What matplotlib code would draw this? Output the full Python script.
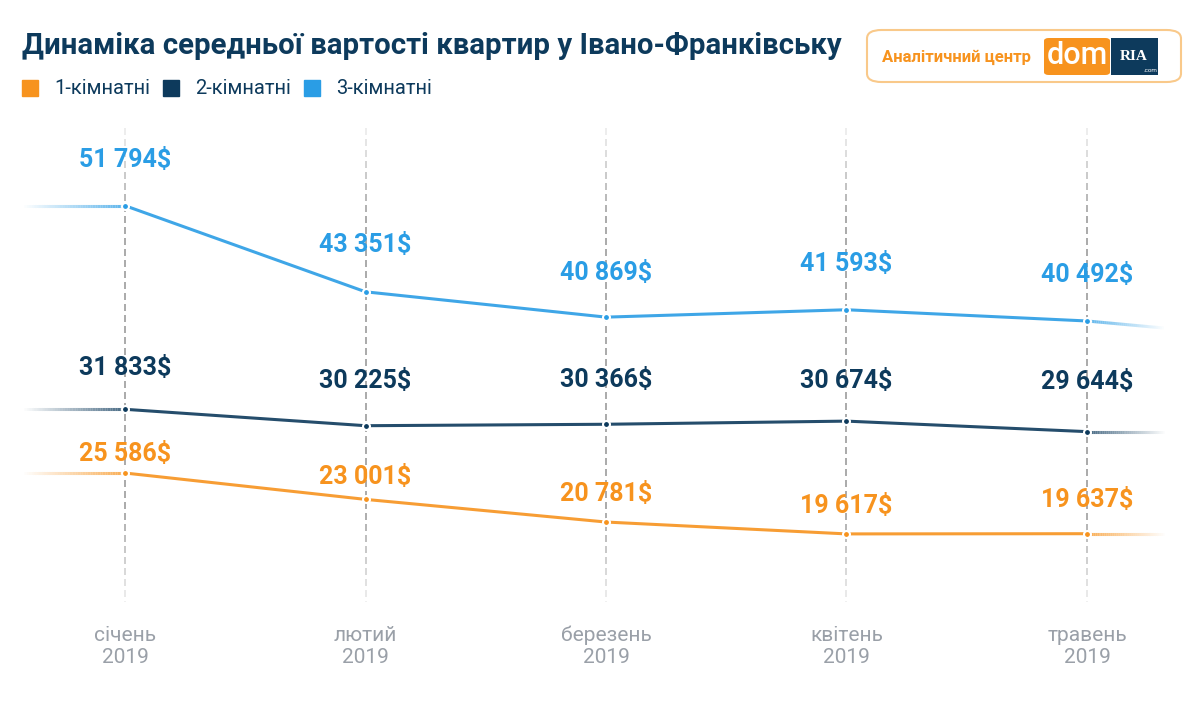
import numpy as np
import matplotlib
matplotlib.use("Agg")
import matplotlib.pyplot as plt
from matplotlib.collections import LineCollection
from matplotlib.patches import FancyBboxPatch, Rectangle

plt.rcParams['font.family'] = ['Roboto', 'DejaVu Sans']

# data
months = ['січень\n2019', 'лютий\n2019', 'березень\n2019', 'квітень\n2019', 'травень\n2019']
series_names = ['1-кімнатні', '2-кімнатні', '3-кімнатні']
room1 = [25586, 23001, 20781, 19617, 19637]
room2 = [31833, 30225, 30366, 30674, 29644]
room3 = [51794, 43351, 40869, 41593, 40492]
# values where the faded tails at both edges end
edge_left = [25586, 31833, 51794]
edge_right = [19637, 29644, 39800]

colors = ['#f7931e', '#0d3a5c', '#2a9de5']
# label centre offsets above each point, in points
label_offsets = [
    [14, 16, 20, 20, 24],
    [30, 32, 32, 29, 36],
    [33, 34, 32, 33, 33],
]

W, H = 1200, 717
fig = plt.figure(figsize=(W / 100, H / 100), dpi=100)
ax = fig.add_axes([0, 0, 1, 1])
ax.set_xlim(-0.52, 4.47)
ax.set_ylim(1667, 71960)
ax.axis('off')

x = np.arange(len(months))
inv = ax.transData.inverted()


def px_to_val(ypx):
    # image pixel row (from top) -> data value
    return inv.transform((0, H - ypx))[1]


# dashed month gridlines, fading at both ends
top_px, bot_px, dash_on, dash_off = 128, 602, 7, 4
for xi in x:
    segs, cols = [], []
    y = top_px
    while y < bot_px:
        y2 = min(y + dash_on, bot_px)
        mid = (y + y2) / 2
        f = np.clip(min((mid - top_px) / 90, (bot_px - mid) / 90), 0, 1)
        segs.append([(xi, px_to_val(y)), (xi, px_to_val(y2))])
        cols.append((0.5, 0.5, 0.5, 0.12 + 0.55 * f))
        y += dash_on + dash_off
    ax.add_collection(LineCollection(segs, colors=cols, linewidths=1.4,
                                     capstyle='butt', zorder=1))


def fade_tail(x0, y0, x1, y1, color):
    n = 40
    xs = np.linspace(x0, x1, n + 1)
    ys = np.linspace(y0, y1, n + 1)
    segs = [[(xs[i], ys[i]), (xs[i + 1], ys[i + 1])] for i in range(n)]
    rgba = matplotlib.colors.to_rgba(color)
    cols = [(rgba[0], rgba[1], rgba[2], 0.75 * (1 - i / n)) for i in range(n)]
    ax.add_collection(LineCollection(segs, colors=cols, linewidths=2.2,
                                     capstyle='butt', zorder=2))


for vals, col, el, er, offs in zip([room1, room2, room3], colors,
                                   edge_left, edge_right, label_offsets):
    ax.plot(x, vals, color=col, lw=2.2, zorder=3, alpha=0.9)
    fade_tail(x[0], vals[0], -0.42, el, col)
    fade_tail(x[-1], vals[-1], 4.32, er, col)
    ax.plot(x, vals, 'o', color=col, ms=5, mec='white', mew=1.5, zorder=4)
    for xi, v, off in zip(x, vals, offs):
        ax.annotate(f'{v:,}'.replace(',', ' ') + '$', (xi, v),
                    xytext=(0, off), textcoords='offset points',
                    ha='center', va='center', fontsize=18, fontweight='bold',
                    color=col, zorder=5)

# month labels
for xi, m in zip(x, months):
    ax.text(xi, 0.098, m, transform=ax.get_xaxis_transform(), ha='center',
            va='center', fontsize=15, color='#9aa0a8', linespacing=1.2)

# title
fig.text(22 / W, 1 - 46 / H, 'Динаміка середньої вартості квартир у Івано-Франківську',
         fontsize=21.2, fontweight='bold', color='#0d3a5c', va='center', ha='left')

# legend
lx = 22
for name, col in zip(series_names, colors):
    fig.patches.append(Rectangle((lx / W, 1 - 96 / H), 16 / W, 16 / H,
                                 transform=fig.transFigure, color=col))
    t = fig.text((lx + 32) / W, 1 - 88 / H, name, fontsize=14.5, color='#0d3a5c',
                 va='center', ha='left')
    fig.canvas.draw()
    bb = t.get_window_extent()
    lx = bb.x1 + 13

# logo box
fig.patches.append(FancyBboxPatch((867 / W, 1 - 82 / H), 314 / W, 52 / H,
                                  boxstyle='round,pad=0,rounding_size=0.012',
                                  transform=fig.transFigure, fc='white',
                                  ec='#f9c98a', lw=1.5))
fig.text(882 / W, 1 - 57 / H, 'Аналітичний центр', fontsize=12, fontweight='bold',
         color='#f7931e', va='center', ha='left')
fig.patches.append(FancyBboxPatch((1044 / W, 1 - 75 / H), 66 / W, 37 / H,
                                  boxstyle='round,pad=0,rounding_size=0.004',
                                  transform=fig.transFigure, fc='#f7931e', ec='none'))
fig.text(1077 / W, 1 - 55 / H, 'dom', fontsize=22, fontweight='medium',
         color='white', va='center', ha='center')
fig.patches.append(Rectangle((1111 / W, 1 - 75 / H), 47 / W, 37 / H,
                             transform=fig.transFigure, fc='#0d3a5c', ec='none'))
fig.text(1134 / W, 1 - 56 / H, 'RIA', fontsize=11, fontweight='bold',
         color='white', va='center', ha='center', family='Liberation Serif')
fig.text(1150 / W, 1 - 70 / H, '.com', fontsize=4.5, color='white',
         va='center', ha='center')

fig.savefig('out.png', dpi=100)
